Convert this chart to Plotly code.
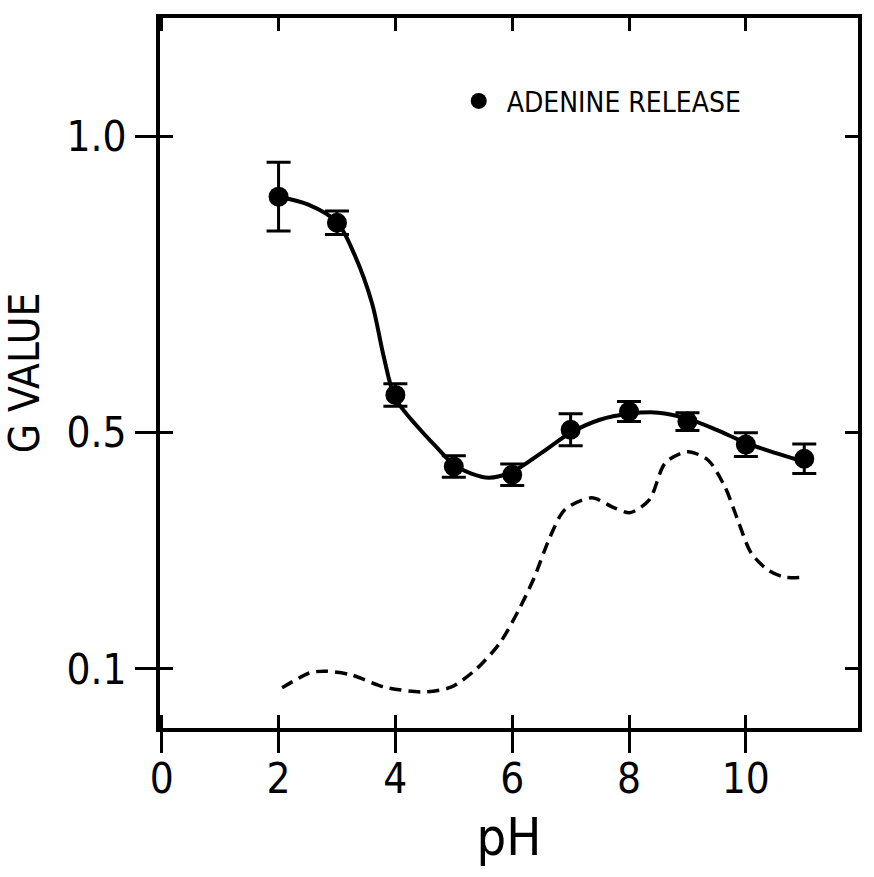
import plotly.graph_objects as go

# ---- data ----
ph = [2, 3, 4, 5, 6, 7, 8, 9, 10, 11]
g_adenine = [0.898, 0.854, 0.563, 0.442, 0.428, 0.504, 0.535, 0.518, 0.479, 0.455]
g_err = [0.058, 0.020, 0.019, 0.018, 0.018, 0.027, 0.017, 0.015, 0.020, 0.025]

fit_ph = [2.0, 2.5, 3.0, 3.3, 3.6, 3.8, 4.0, 4.4, 4.7, 5.0, 5.3, 5.6, 6.0,
          6.5, 7.0, 7.5, 8.0, 8.5, 9.0, 9.5, 10.0, 10.5, 11.0]
fit_g = [0.898, 0.885, 0.855, 0.800, 0.718, 0.628, 0.557, 0.507, 0.475,
         0.445, 0.430, 0.423, 0.433, 0.465, 0.499, 0.521, 0.531, 0.533, 0.523,
         0.504, 0.482, 0.465, 0.450]

dash_ph = [2.06, 2.53, 2.78, 3.24, 3.82, 4.49, 4.95, 5.39, 5.79, 6.13, 6.38, 6.64,
           6.90, 7.36, 7.75, 8.02, 8.35, 8.62, 9.00, 9.35, 9.64, 9.86, 10.09,
           10.38, 10.66, 11.00]
dash_g = [0.068, 0.093, 0.096, 0.090, 0.069, 0.061, 0.069, 0.100, 0.144, 0.203,
          0.255, 0.321, 0.369, 0.389, 0.372, 0.364, 0.386, 0.448, 0.467, 0.453,
          0.408, 0.352, 0.296, 0.267, 0.255, 0.255]

x_ticks = [0, 2, 4, 6, 8, 10]
y_ticks = [0.1, 0.5, 1.0]
y_ticklabels = ["0.1", "0.5", "1.0"]

FONT = "Liberation Sans Narrow, DejaVu Sans Condensed, Arial Narrow, Liberation Sans, sans-serif"
X_RANGE = [-0.03, 11.92]
Y_RANGE = [0, 1.2]

fig = go.Figure()

fig.add_trace(go.Scatter(
    x=dash_ph, y=dash_g, mode="lines",
    line=dict(color="black", width=3.5, dash="12px,7px", shape="spline", smoothing=0.8),
    showlegend=False, hoverinfo="skip"))

fig.add_trace(go.Scatter(
    x=fit_ph, y=fit_g, mode="lines",
    line=dict(color="black", width=4, shape="spline", smoothing=0.9),
    showlegend=False, hoverinfo="skip"))

fig.add_trace(go.Scatter(
    x=ph, y=g_adenine, mode="markers", name="\u00a0ADENINE RELEASE",
    marker=dict(color="black", size=20, symbol="circle"),
    error_y=dict(type="data", array=g_err, visible=True, color="black",
                 thickness=3, width=12)))

# dummy trace for the overlay axes (outer half of crossing ticks + labels)
fig.add_trace(go.Scatter(x=[X_RANGE[0]], y=[Y_RANGE[0]], xaxis="x2", yaxis="y2",
                         mode="markers", marker=dict(opacity=0), showlegend=False,
                         hoverinfo="skip"))

fig.update_layout(
    width=874, height=877,
    margin=dict(l=160, r=14, t=18, b=149),
    paper_bgcolor="white", plot_bgcolor="white",
    font=dict(family=FONT, color="black"),
    xaxis=dict(range=X_RANGE, tickvals=x_ticks, showticklabels=False,
               ticks="inside", ticklen=13, tickwidth=3, tickcolor="black",
               showline=True, linewidth=4, linecolor="black", mirror="ticks",
               showgrid=False, zeroline=False),
    yaxis=dict(range=Y_RANGE, tickvals=y_ticks, showticklabels=False,
               ticks="inside", ticklen=13, tickwidth=3, tickcolor="black",
               showline=True, linewidth=4, linecolor="black", mirror="ticks",
               showgrid=False, zeroline=False),
    xaxis2=dict(overlaying="x", anchor="y2", side="bottom", range=X_RANGE,
                tickvals=x_ticks, ticktext=[str(v) for v in x_ticks],
                ticks="outside", ticklen=24, tickwidth=3, tickcolor="black",
                ticklabelstandoff=-10,
                tickfont=dict(size=42, family=FONT),
                showline=False, showgrid=False, zeroline=False,
                title=dict(text="pH", font=dict(size=52, family=FONT), standoff=16)),
    yaxis2=dict(overlaying="y", anchor="x2", side="left", range=Y_RANGE,
                tickvals=y_ticks, ticktext=y_ticklabels,
                ticks="outside", ticklen=24, tickwidth=3, tickcolor="black",
                tickfont=dict(size=42, family=FONT),
                showline=False, showgrid=False, zeroline=False,
                title=dict(text="G VALUE", font=dict(size=42, family=FONT), standoff=18)),
    legend=dict(x=0.428, y=0.918, xanchor="left", yanchor="top",
                bgcolor="rgba(0,0,0,0)", font=dict(size=28, family=FONT),
                itemsizing="trace"),
)

fig.write_html("out.html")
